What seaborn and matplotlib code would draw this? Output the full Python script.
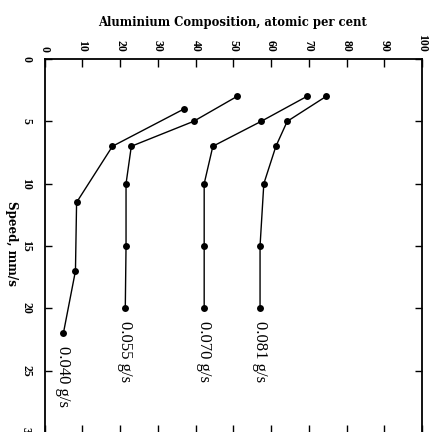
import matplotlib
matplotlib.use("Agg")
import matplotlib.pyplot as plt
import seaborn as sns
import pandas as pd

# ---- data ----
series_labels = ["0.040 g/s", "0.055 g/s", "0.070 g/s", "0.081 g/s"]
speed_040 = [4, 7, 11.5, 17, 22]
comp_040 = [37, 18, 8.5, 8.2, 5]
speed_055 = [3, 5, 7, 10, 15, 20]
comp_055 = [51, 39.5, 23, 21.6, 21.6, 21.4]
speed_070 = [3, 5, 7, 10, 15, 20]
comp_070 = [69.5, 57.4, 44.6, 42.3, 42.3, 42.3]
speed_081 = [3, 5, 7, 10, 15, 20]
comp_081 = [74.6, 64.3, 61.3, 58.1, 57.1, 57.1]

comp_ticks = [0, 10, 20, 30, 40, 50, 60, 70, 80, 90, 100]
speed_ticks = [0, 5, 10, 15, 20, 25, 30]

frames = []
for lab, sp, cp in zip(series_labels,
                       [speed_040, speed_055, speed_070, speed_081],
                       [comp_040, comp_055, comp_070, comp_081]):
    frames.append(pd.DataFrame({"speed": sp, "comp": cp, "series": lab}))
df = pd.concat(frames, ignore_index=True)

sns.set_style("ticks", {"text.color": "black", "axes.labelcolor": "black",
                        "xtick.color": "black", "ytick.color": "black",
                        "axes.edgecolor": "black"})
plt.rcParams["font.family"] = ["Liberation Serif", "DejaVu Serif"]

fig = plt.figure(figsize=(4.32, 4.32), dpi=100)
ax = fig.add_axes([44.5 / 432, (432 - 433) / 432, 377.5 / 432, 374 / 432])

sns.lineplot(data=df, x="comp", y="speed", hue="series",
             palette=["black"] * 4, marker="o", markersize=5,
             markeredgewidth=0, linewidth=1.0, sort=False,
             estimator=None, legend=False, ax=ax)

ax.set_xlim(0, 100)
ax.set_ylim(30, 0)

ax.xaxis.tick_top()
ax.set_xticks(comp_ticks)
ax.set_yticks(speed_ticks)
ax.set_xticklabels([str(t) for t in comp_ticks], rotation=-90,
                   fontsize=8.5, fontweight="bold", color="black")
ax.set_yticklabels([str(t) for t in speed_ticks], rotation=-90,
                   fontsize=8.5, fontweight="bold", va="center", color="black")
ax.tick_params(axis="x", which="both", direction="in", length=6, width=1,
               color="black", top=True, bottom=True, labeltop=True,
               labelbottom=False, pad=5)
ax.tick_params(axis="y", which="both", direction="in", length=5, width=1,
               color="black", left=True, right=True, labelleft=True,
               labelright=False, pad=9)

for s in ax.spines.values():
    s.set_visible(True)
    s.set_linewidth(1.3)
    s.set_color("black")

ax.set_xlabel("")
ax.set_ylabel("")
fig.text(233 / 432, 1 - 22.5 / 432, "Aluminium Composition, atomic per cent",
         ha="center", va="center", fontsize=8.4, fontweight="bold",
         family="DejaVu Serif", color="black")
fig.text(11 / 432, 1 - 244 / 432, "Speed, mm/s", rotation=-90,
         ha="center", va="center", fontsize=8.6, fontweight="bold",
         family="DejaVu Serif", color="black")

# series labels below each series' last point
for lab, sp, cp in zip(series_labels,
                       [speed_040, speed_055, speed_070, speed_081],
                       [comp_040, comp_055, comp_070, comp_081]):
    ax.text(cp[-1], sp[-1] + 1.0, lab, rotation=-90, ha="center", va="top",
            fontsize=12, color="black")

fig.savefig("out.png", dpi=100)
